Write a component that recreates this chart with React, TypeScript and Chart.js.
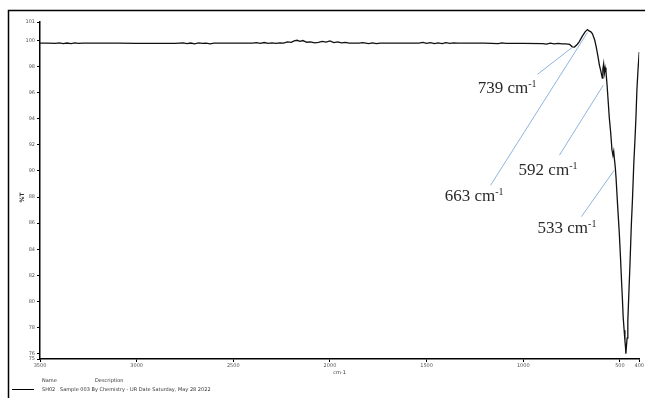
import React, { useEffect, useRef } from "react";
import { Chart, registerables } from "chart.js";

Chart.register(...registerables);

// Wavenumber (cm-1) and transmittance (%T)
const WAVENUMBERS = [
  3500, 3460, 3420, 3400, 3380, 3360, 3340, 3320, 3300, 3280, 3250, 3200, 3100, 3000, 2900, 2800,
  2760, 2740, 2720, 2700, 2680, 2660, 2640, 2620, 2600, 2500, 2400, 2380, 2360, 2340, 2320, 2300,
  2280, 2260, 2240, 2220, 2200, 2185, 2170, 2155, 2140, 2120, 2100, 2080, 2060, 2040, 2020, 2000,
  1980, 1960, 1940, 1920, 1900, 1850, 1830, 1800, 1780, 1760, 1740, 1700, 1600, 1540, 1520, 1500,
  1480, 1460, 1440, 1420, 1400, 1380, 1360, 1340, 1200, 1130, 1110, 1090, 1000, 900, 880, 860,
  840, 820, 800, 780, 760, 746, 735, 720, 710, 695, 680, 668, 660, 650, 642, 630, 622, 614, 606,
  598, 591, 588, 584, 580, 576, 572, 566, 560, 555, 548, 541, 536, 532, 529, 524, 520, 512, 503,
  497, 491, 487, 483, 478, 474, 471, 469, 466, 463, 459, 455, 448, 441, 435, 428, 422, 417, 412,
  406, 400,
];
const TRANSMITTANCE = [
  99.78, 99.79, 99.76, 99.8, 99.74, 99.79, 99.75, 99.8, 99.76, 99.79, 99.78, 99.78, 99.78, 99.77, 99.77, 99.77,
  99.8, 99.74, 99.79, 99.73, 99.8, 99.76, 99.78, 99.72, 99.78, 99.78, 99.78, 99.82, 99.76, 99.83, 99.77, 99.8,
  99.76, 99.8, 99.78, 99.88, 99.84, 99.95, 100.0, 99.92, 99.98, 99.85, 99.88, 99.8, 99.84, 99.92, 99.86, 99.95,
  99.82, 99.88, 99.8, 99.84, 99.78, 99.78, 99.82, 99.75, 99.8, 99.74, 99.79, 99.78, 99.78, 99.78, 99.84, 99.76,
  99.82, 99.74, 99.8, 99.75, 99.82, 99.76, 99.8, 99.78, 99.78, 99.74, 99.8, 99.76, 99.76, 99.75, 99.7, 99.78,
  99.72, 99.76, 99.73, 99.72, 99.68, 99.5, 99.48, 99.7, 99.9, 100.3, 100.65, 100.82, 100.72, 100.65, 100.5, 100.0, 99.46, 98.8, 98.1,
  97.6, 97.1, 97.8, 98.2, 97.5, 97.9, 97.6, 96.5, 95.2, 94.1, 93.0, 91.6, 91.2, 91.5, 91.0, 90.3, 89.5, 87.4, 85.2,
  83.4, 81.4, 80.2, 78.8, 77.8, 77.0, 76.5, 76.0, 76.6, 77.2, 78.5, 80.1, 82.8, 85.8, 87.8, 90.6, 92.4, 94.1, 96.2,
  97.8, 99.1,
];

const X_TICKS = [3500, 3000, 2500, 2000, 1500, 1000, 500, 400];
const Y_TICKS = [75.6, 76, 78, 80, 82, 84, 86, 88, 90, 92, 94, 96, 98, 100, 101.4];
const X_MIN = 400;
const X_MAX = 3500;
const Y_MIN = 75.6;
const Y_MAX = 101.4;

// Peak annotations: label, label anchor (wn, %T), leader line from -> to (wn, %T)
const PEAK_LABELS = ["739", "663", "592", "533"];
const PEAK_TEXT_WN = [1236, 1406, 1024, 926];
const PEAK_TEXT_T = [95.95, 87.69, 89.68, 85.24];
const PEAK_LINE_FROM_WN = [926, 1169, 813, 699];
const PEAK_LINE_FROM_T = [97.4, 88.9, 91.2, 86.5];
const PEAK_LINE_TO_WN = [746, 668, 586, 529];
const PEAK_LINE_TO_T = [99.46, 100.6, 96.56, 90.06];

const X_TITLE = "cm-1";
const Y_TITLE = "%T";
const LEGEND_HEAD = ["Name", "Description"];
const LEGEND_NAME = "SH02";
const LEGEND_DESC = "Sample 003 By Chemistry - UR Date Saturday, May 28 2022";

const overlayPlugin = {
  id: "overlay",
  beforeDraw(chart: any) {
    const ctx = chart.ctx;
    ctx.save();
    ctx.strokeStyle = "#000";
    ctx.lineWidth = 1.5;
    ctx.beginPath();
    ctx.moveTo(8.5, chart.height);
    ctx.lineTo(8.5, 10.5);
    ctx.lineTo(chart.width, 10.5);
    ctx.stroke();
    ctx.restore();
  },
  afterDraw(chart: any) {
    const ctx = chart.ctx;
    const xs = chart.scales.x;
    const ys = chart.scales.y;
    const area = chart.chartArea;
    ctx.save();
    // leader lines
    ctx.strokeStyle = "#8fb4de";
    ctx.lineWidth = 1;
    for (let i = 0; i < PEAK_LABELS.length; i++) {
      ctx.beginPath();
      ctx.moveTo(xs.getPixelForValue(PEAK_LINE_FROM_WN[i]), ys.getPixelForValue(PEAK_LINE_FROM_T[i]));
      ctx.lineTo(xs.getPixelForValue(PEAK_LINE_TO_WN[i]), ys.getPixelForValue(PEAK_LINE_TO_T[i]));
      ctx.stroke();
    }
    // labels
    ctx.fillStyle = "#2a2a2a";
    ctx.textBaseline = "alphabetic";
    ctx.textAlign = "left";
    for (let i = 0; i < PEAK_LABELS.length; i++) {
      const px = xs.getPixelForValue(PEAK_TEXT_WN[i]);
      const py = ys.getPixelForValue(PEAK_TEXT_T[i]);
      ctx.font = '17px "Liberation Serif", serif';
      const main = PEAK_LABELS[i] + " cm";
      ctx.fillText(main, px, py);
      const w = ctx.measureText(main).width;
      ctx.font = '10px "Liberation Serif", serif';
      ctx.fillText("-1", px + w, py - 6);
    }
    // axis titles
    ctx.fillStyle = "#333";
    ctx.font = '5px "DejaVu Sans", sans-serif';
    ctx.textAlign = "center";
    ctx.fillText(X_TITLE, (area.left + area.right) / 2, area.bottom + 15);
    ctx.save();
    ctx.translate(area.left - 16, (area.top + area.bottom) / 2 + 7);
    ctx.rotate(-Math.PI / 2);
    ctx.font = 'bold 6px "DejaVu Sans", sans-serif';
    ctx.fillText(Y_TITLE, 0, 0);
    ctx.restore();
    // legend block
    ctx.textAlign = "left";
    ctx.font = '5px "DejaVu Sans", sans-serif';
    ctx.fillText(LEGEND_HEAD[0], area.left + 2, area.bottom + 23);
    ctx.fillText(LEGEND_HEAD[1], area.left + 55, area.bottom + 23);
    ctx.fillText(LEGEND_NAME, area.left + 2, area.bottom + 32);
    ctx.fillText(LEGEND_DESC, area.left + 20, area.bottom + 32);
    ctx.strokeStyle = "#000";
    ctx.lineWidth = 1;
    ctx.beginPath();
    ctx.moveTo(12, area.bottom + 30.5);
    ctx.lineTo(34, area.bottom + 30.5);
    ctx.stroke();
    ctx.restore();
  },
};

export default function App() {
  const ref = useRef<HTMLCanvasElement | null>(null);
  useEffect(() => {
    if (!ref.current) return;
    const chart = new Chart(ref.current, {
      type: "line",
      data: {
        datasets: [
          {
            data: WAVENUMBERS.map((x, i) => ({ x, y: TRANSMITTANCE[i] })),
            borderColor: "#111",
            borderWidth: 1.3,
            pointRadius: 0,
            tension: 0,
            fill: false,
          },
        ],
      },
      options: {
        animation: false,
        responsive: false,
        devicePixelRatio: 1,
        layout: { padding: { top: 22, right: 5, left: 0, bottom: 0 } },
        plugins: { legend: { display: false }, tooltip: { enabled: false } },
        scales: {
          x: {
            type: "linear",
            reverse: true,
            min: X_MIN,
            max: X_MAX,
            afterBuildTicks: (s: any) => {
              s.ticks = X_TICKS.map((v) => ({ value: v }));
            },
            afterFit: (s: any) => {
              s.height = 39;
            },
            ticks: {
              font: { size: 5, family: "DejaVu Sans" },
              color: "#555",
              padding: 1,
              maxRotation: 0,
              autoSkip: false,
              callback: (v: any) => String(v),
            },
            grid: { display: true, drawOnChartArea: false, drawTicks: true, tickLength: 3, color: "#000" },
            border: { display: true, color: "#000", width: 1.5 },
          },
          y: {
            min: Y_MIN,
            max: Y_MAX,
            afterBuildTicks: (s: any) => {
              s.ticks = Y_TICKS.map((v) => ({ value: v }));
            },
            afterFit: (s: any) => {
              s.width = 40;
            },
            ticks: {
              font: { size: 5, family: "DejaVu Sans" },
              color: "#555",
              padding: 2,
              autoSkip: false,
              callback: (v: any) => String(Math.floor(Number(v))),
            },
            grid: { display: true, drawOnChartArea: false, drawTicks: true, tickLength: 3, color: "#000" },
            border: { display: true, color: "#000", width: 1.5 },
          },
        },
      },
      plugins: [overlayPlugin],
    } as any);
    return () => chart.destroy();
  }, []);
  return (
    <div style={{ position: "fixed", left: 0, top: 0, width: 645, height: 398, background: "#fff" }}>
      <canvas ref={ref} width={645} height={398} style={{ display: "block" }} />
    </div>
  );
}
